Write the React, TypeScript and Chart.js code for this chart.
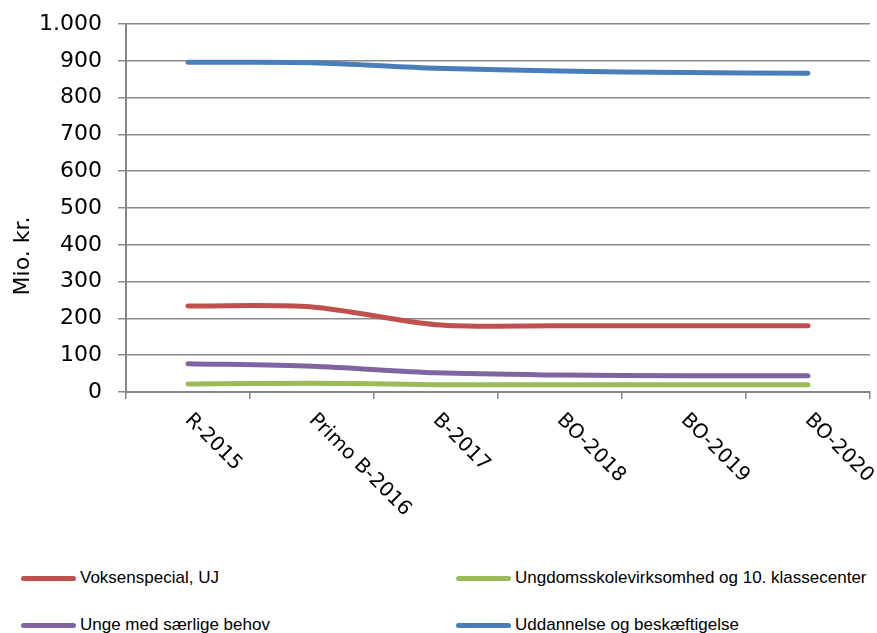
import React, { useEffect, useRef } from "react";
import { Chart, registerables } from "chart.js";

Chart.register(...registerables);

const categories = ["R-2015", "Primo B-2016", "B-2017", "BO-2018", "BO-2019", "BO-2020"];
const voksenspecial = [234, 231, 183, 180, 180, 180];
const ungdomsskole = [22, 24, 20, 20, 20, 20];
const ungeMedBehov = [77, 70, 52, 46, 44, 44];
const uddannelse = [896, 895, 880, 872, 868, 866];
const seriesNames = [
  "Voksenspecial, UJ",
  "Ungdomsskolevirksomhed og 10. klassecenter",
  "Unge med særlige behov",
  "Uddannelse og beskæftigelse",
];
const seriesColors = ["#C0504D", "#9BBB59", "#8064A2", "#4A7EBB"];
const yTicks = [0, 100, 200, 300, 400, 500, 600, 700, 800, 900, 1000];
const yTitle = "Mio. kr.";

const fmt = (v: number) => String(v).replace(/\B(?=(\d{3})+(?!\d))/g, ".");

const customText = {
  id: "customText",
  afterDraw(chart: any) {
    const ctx = chart.ctx;
    const xs = chart.scales.x;
    const yBottom = chart.chartArea.bottom;
    ctx.save();
    ctx.font = "20px 'DejaVu Sans'";
    ctx.fillStyle = "#000";
    ctx.textAlign = "left";
    ctx.textBaseline = "middle";
    categories.forEach((c, i) => {
      const x = xs.getPixelForValue(i);
      ctx.save();
      ctx.translate(x, yBottom + 25);
      ctx.rotate(Math.PI / 4);
      ctx.fillText(c, 0, 0);
      ctx.restore();
    });
    ctx.font = "22px 'DejaVu Sans'";
    ctx.textAlign = "center";
    ctx.save();
    ctx.translate(23, 256);
    ctx.rotate(-Math.PI / 2);
    ctx.fillText(yTitle, 0, 0);
    ctx.restore();
    ctx.restore();
  },
};

export default function App() {
  const ref = useRef<HTMLCanvasElement>(null);
  useEffect(() => {
    if (!ref.current) return;
    const data = [voksenspecial, ungdomsskole, ungeMedBehov, uddannelse];
    const chart = new Chart(ref.current, {
      type: "line",
      data: {
        labels: categories,
        datasets: data.map((d, i) => ({
          label: seriesNames[i],
          data: d,
          borderColor: seriesColors[i],
          backgroundColor: seriesColors[i],
          borderWidth: 5,
          pointRadius: 0,
          tension: 0.3,
          borderCapStyle: "round" as const,
          borderJoinStyle: "round" as const,
        })),
      },
      options: {
        animation: false,
        responsive: false,
        layout: { padding: { top: 24, right: 7, bottom: 146, left: 0 } },
        plugins: { legend: { display: false }, tooltip: { enabled: false } },
        scales: {
          x: {
            type: "category",
            offset: true,
            afterFit: (s: any) => {
              s.paddingLeft = 0;
              s.paddingRight = 0;
            },
            grid: {
              offset: true,
              drawOnChartArea: false,
              drawTicks: true,
              tickLength: 7,
              color: "#868686",
              lineWidth: 1.5,
            },
            border: { color: "#868686", width: 2 },
            ticks: { display: false },
          },
          y: {
            min: 0,
            max: 1000,
            afterFit: (s: any) => {
              s.width = 126;
              s.paddingTop = 0;
              s.paddingBottom = 0;
            },
            afterBuildTicks: (s: any) => {
              s.ticks = yTicks.map((v) => ({ value: v }));
            },
            grid: { color: "#8a8a8a", lineWidth: 1.5, tickLength: 8 },
            border: { color: "#868686", width: 2 },
            ticks: {
              font: { family: "'DejaVu Sans'", size: 22 },
              color: "#000",
              padding: 16,
              callback: (v: any) => fmt(Number(v)),
            },
          },
        },
      },
      plugins: [customText],
    });
    return () => chart.destroy();
  }, []);

  const legendFont = "'Liberation Sans Narrow', 'Arial Narrow', 'Liberation Sans', sans-serif";
  const items = [
    { x: 21, y: 578, i: 0 },
    { x: 456, y: 578, i: 1 },
    { x: 21, y: 625, i: 2 },
    { x: 456, y: 625, i: 3 },
  ];
  return (
    <div style={{ position: "absolute", left: 0, top: 0, width: 877, height: 633, background: "#fff", overflow: "hidden" }}>
      <canvas ref={ref} width={877} height={545} style={{ position: "absolute", left: 0, top: 0 }} />
      {items.map((it) => (
        <div
          key={it.i}
          style={{
            position: "absolute",
            left: it.x,
            top: it.y - 11,
            height: 22,
            display: "flex",
            alignItems: "center",
            fontFamily: legendFont,
            fontSize: 17,
            color: "#000",
            whiteSpace: "nowrap",
          }}
        >
          <span
            style={{
              display: "inline-block",
              width: 55,
              height: 5,
              borderRadius: 3,
              background: seriesColors[it.i],
              marginRight: 4,
            }}
          />
          {seriesNames[it.i]}
        </div>
      ))}
    </div>
  );
}
